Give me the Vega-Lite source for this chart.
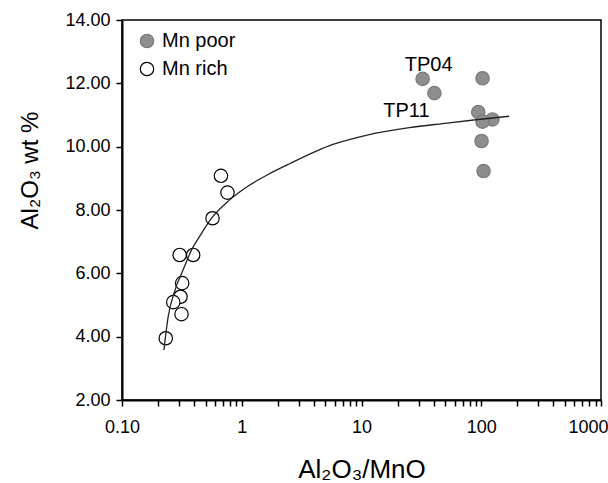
{
  "$schema": "https://vega.github.io/schema/vega-lite/v6.json",
  "width": 479,
  "height": 380,
  "autosize": {"type": "none"},
  "padding": {"left": 122, "top": 20, "right": 7, "bottom": 83},
  "background": "white",
  "config": {
    "font": "Liberation Sans",
    "view": {"stroke": "#000", "strokeWidth": 1.5},
    "axis": {"grid": false, "domainColor": "#000", "domainWidth": 2, "tickColor": "#000", "tickWidth": 1.5, "labelColor": "#000", "titleColor": "#000", "labelFont": "Liberation Sans", "titleFont": "Liberation Sans", "titleFontWeight": "normal"}
  },
  "datasets": {
    "points": [
      {"ratio": 0.67, "al2o3": 9.08, "group": "Mn rich", "label": ""},
      {"ratio": 0.76, "al2o3": 8.55, "group": "Mn rich", "label": ""},
      {"ratio": 0.57, "al2o3": 7.74, "group": "Mn rich", "label": ""},
      {"ratio": 0.303, "al2o3": 6.58, "group": "Mn rich", "label": ""},
      {"ratio": 0.393, "al2o3": 6.58, "group": "Mn rich", "label": ""},
      {"ratio": 0.318, "al2o3": 5.69, "group": "Mn rich", "label": ""},
      {"ratio": 0.308, "al2o3": 5.26, "group": "Mn rich", "label": ""},
      {"ratio": 0.268, "al2o3": 5.09, "group": "Mn rich", "label": ""},
      {"ratio": 0.314, "al2o3": 4.71, "group": "Mn rich", "label": ""},
      {"ratio": 0.232, "al2o3": 3.95, "group": "Mn rich", "label": ""},
      {"ratio": 32.4, "al2o3": 12.14, "group": "Mn poor", "label": "TP04"},
      {"ratio": 40.6, "al2o3": 11.69, "group": "Mn poor", "label": "TP11"},
      {"ratio": 102.5, "al2o3": 12.16, "group": "Mn poor", "label": ""},
      {"ratio": 94.4, "al2o3": 11.09, "group": "Mn poor", "label": ""},
      {"ratio": 124, "al2o3": 10.86, "group": "Mn poor", "label": ""},
      {"ratio": 102.5, "al2o3": 10.79, "group": "Mn poor", "label": ""},
      {"ratio": 100.6, "al2o3": 10.18, "group": "Mn poor", "label": ""},
      {"ratio": 104.5, "al2o3": 9.23, "group": "Mn poor", "label": ""}
    ],
    "curve": [
      {"ratio": 0.224, "al2o3": 3.58},
      {"ratio": 0.243, "al2o3": 4.63},
      {"ratio": 0.277, "al2o3": 5.47},
      {"ratio": 0.324, "al2o3": 6.11},
      {"ratio": 0.381, "al2o3": 6.74},
      {"ratio": 0.461, "al2o3": 7.26},
      {"ratio": 0.559, "al2o3": 7.74},
      {"ratio": 0.794, "al2o3": 8.32},
      {"ratio": 1.166, "al2o3": 8.79},
      {"ratio": 1.656, "al2o3": 9.12},
      {"ratio": 2.51, "al2o3": 9.46},
      {"ratio": 5.77, "al2o3": 10.07},
      {"ratio": 10.94, "al2o3": 10.36},
      {"ratio": 25.1, "al2o3": 10.6},
      {"ratio": 47.6, "al2o3": 10.73},
      {"ratio": 90.3, "al2o3": 10.85},
      {"ratio": 171, "al2o3": 10.96}
    ]
  },
  "encoding": {
    "x": {
      "field": "ratio", "type": "quantitative",
      "scale": {"type": "log", "domain": [0.1, 1000], "nice": false},
      "axis": {
        "title": "Al₂O₃/MnO", "titleFontSize": 26, "titlePadding": 20,
        "values": [0.1,0.2,0.3,0.4,0.5,0.6,0.7,0.8,0.9,1,2,3,4,5,6,7,8,9,10,20,30,40,50,60,70,80,90,100,200,300,400,500,600,700,800,900,1000],
        "labelExpr": "datum.value == 0.1 ? '0.10' : (datum.value == 1 || datum.value == 10 || datum.value == 100 || datum.value == 1000) ? format(datum.value, 'd') : ''",
        "labelOffset": {"condition": {"test": "datum.value == 1000", "value": -13}, "value": 0},
        "labelFontSize": 18, "tickSize": 6, "labelPadding": 12, "labelOverlap": false, "labelFlush": false
      }
    },
    "y": {
      "field": "al2o3", "type": "quantitative",
      "scale": {"domain": [2, 14], "nice": false, "zero": false},
      "axis": {
        "title": "Al₂O₃ wt %", "titleFontSize": 24, "titleX": -80, "titleY": 150,
        "values": [2,4,6,8,10,12,14], "format": ".2f",
        "labelFontSize": 18, "tickSize": 6, "labelPadding": 6
      }
    }
  },
  "layer": [
    {
      "data": {"name": "points"},
      "mark": {"type": "point", "shape": "circle", "filled": false, "size": 180, "strokeWidth": 1.2, "opacity": 1},
      "encoding": {
        "fill": {"field": "group", "type": "nominal",
          "scale": {"domain": ["Mn poor", "Mn rich"], "range": ["#8e8e8e", "#ffffff"]},
          "legend": {"title": null, "orient": "none", "legendX": 15, "legendY": 11, "labelFontSize": 20, "labelColor": "#000", "symbolSize": 180, "symbolStrokeWidth": 1.2, "rowPadding": 8, "labelOffset": 5, "padding": 0}},
        "stroke": {"field": "group", "type": "nominal",
          "scale": {"domain": ["Mn poor", "Mn rich"], "range": ["#7a7a7a", "#000000"]},
          "legend": {"title": null, "orient": "none", "legendX": 15, "legendY": 11, "labelFontSize": 20, "labelColor": "#000", "symbolSize": 180, "symbolStrokeWidth": 1.2, "rowPadding": 8, "labelOffset": 5, "padding": 0}}
      }
    },
    {
      "data": {"name": "curve"},
      "mark": {"type": "line", "color": "#222", "strokeWidth": 1.3, "interpolate": "monotone"},
      "encoding": {}
    },
    {
      "data": {"name": "points"},
      "transform": [{"filter": "datum.label == 'TP04'"}],
      "mark": {"type": "text", "fontSize": 20, "dx": 6, "dy": -8, "baseline": "alphabetic", "align": "center", "color": "#000"},
      "encoding": {"text": {"field": "label"}}
    },
    {
      "data": {"name": "points"},
      "transform": [{"filter": "datum.label == 'TP11'"}],
      "mark": {"type": "text", "fontSize": 20, "dx": -28, "dy": 24, "baseline": "alphabetic", "align": "center", "color": "#000"},
      "encoding": {"text": {"field": "label"}}
    }
  ]
}
